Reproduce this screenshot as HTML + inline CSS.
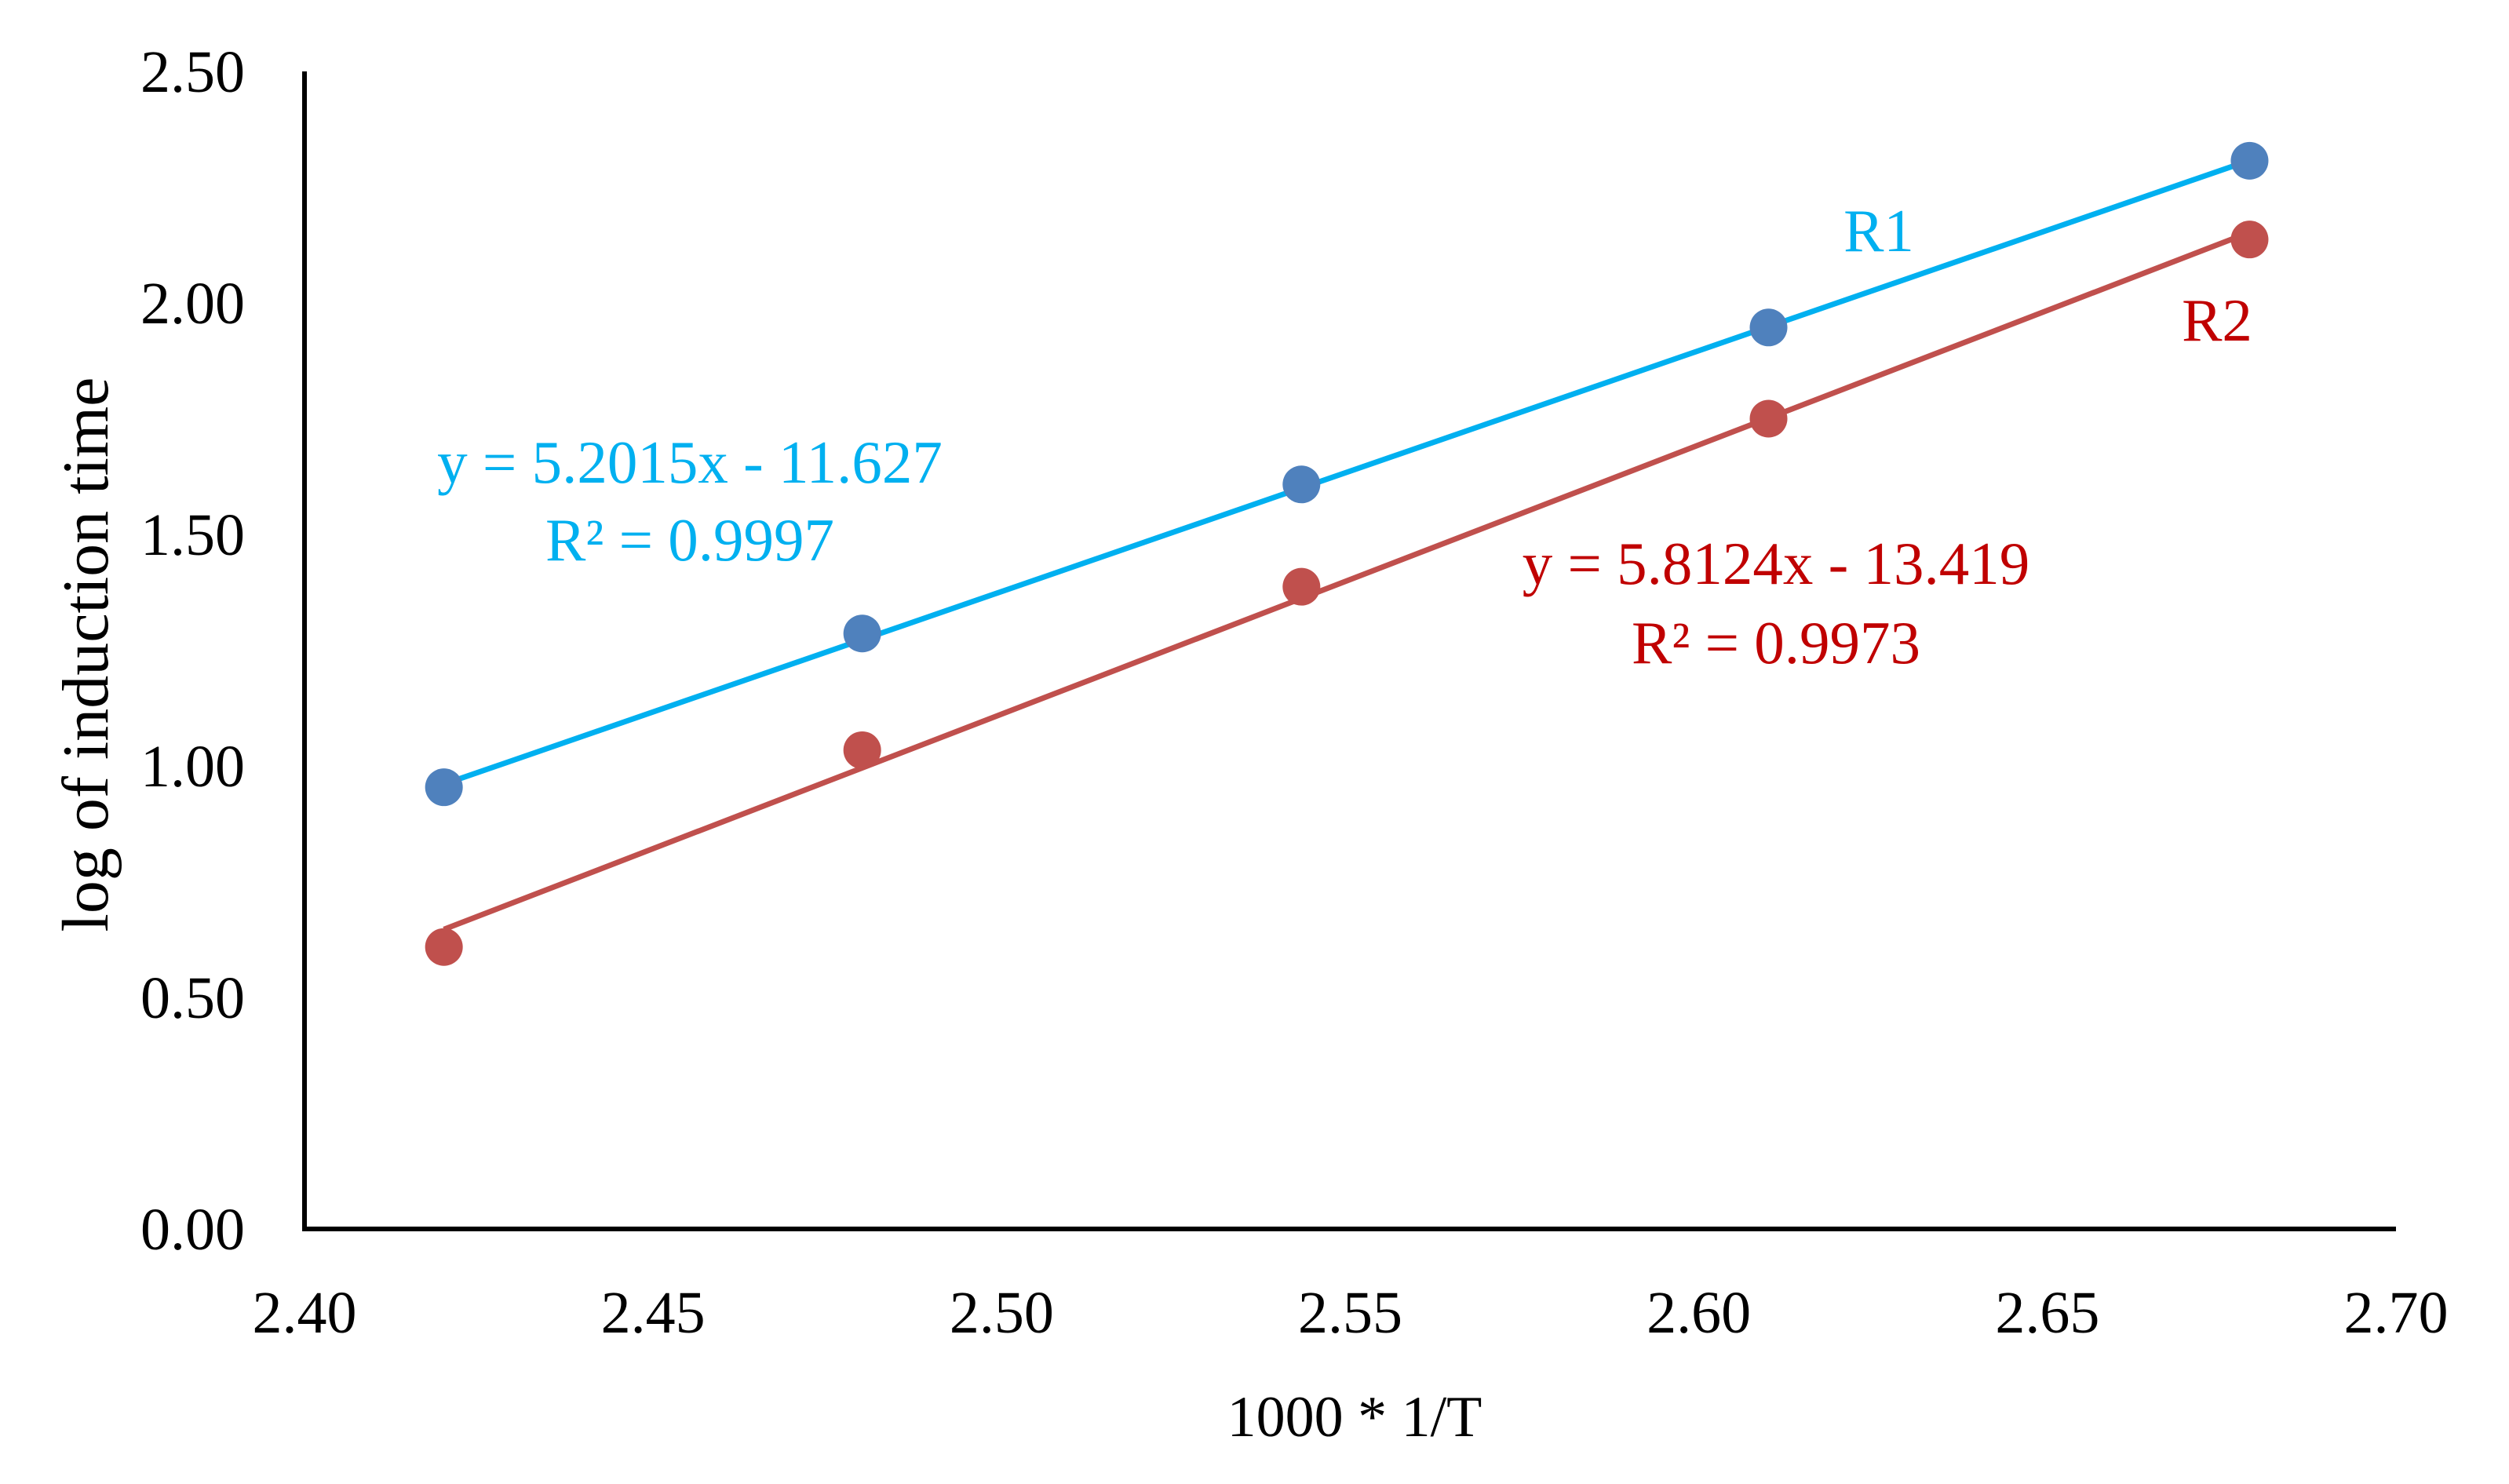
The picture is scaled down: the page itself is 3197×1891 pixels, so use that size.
<!DOCTYPE html>
<html><head><meta charset="utf-8"><style>
html,body{margin:0;padding:0;background:#fff;}
svg text{font-family:"Liberation Serif",serif;}
</style></head><body>
<svg id="chart" width="3197" height="1886" viewBox="0 0 3197 1886" xmlns="http://www.w3.org/2000/svg">
<g id="plot"></g>
</svg>
<script>
const xTicks = [2.40, 2.45, 2.50, 2.55, 2.60, 2.65, 2.70];
const yTicks = [0.00, 0.50, 1.00, 1.50, 2.00, 2.50];
const xValues = [2.420, 2.480, 2.543, 2.610, 2.679];
const r1Values = [0.954, 1.286, 1.608, 1.947, 2.307];
const r2Values = [0.609, 1.034, 1.387, 1.750, 2.137];
const r1Fit = [5.2015, -11.627];
const r2Fit = [5.8124, -13.419];

const X0 = 388, X1 = 3053, Y0 = 1566, Y1 = 91;
const xMin = 2.40, xMax = 2.70, yMin = 0, yMax = 2.5;
function sx(v){ return X0 + (v - xMin) / (xMax - xMin) * (X1 - X0); }
function sy(v){ return Y0 - (v - yMin) / (yMax - yMin) * (Y0 - Y1); }

const NS = "http://www.w3.org/2000/svg";
const g = document.getElementById('plot');
function mk(tag, attrs){ const e = document.createElementNS(NS, tag); for (const k in attrs) e.setAttribute(k, attrs[k]); g.appendChild(e); return e; }

let ax = mk('line', {x1:X0, y1:Y1, x2:X0, y2:Y0+3, stroke:'#000', 'stroke-width':6});


ax = mk('line', {x1:X0-3, y1:Y0, x2:X1, y2:Y0, stroke:'#000', 'stroke-width':6});



xTicks.forEach(v => {
  const t = mk('text', {x:sx(v), y:1698, 'font-size':76, 'text-anchor':'middle', fill:'#000'});
  t.textContent = v.toFixed(2);
  
  
});
yTicks.forEach(v => {
  const t = mk('text', {x:312, y:sy(v)+26, 'font-size':76, 'text-anchor':'end', fill:'#000'});
  t.textContent = v.toFixed(2);
  
  
});

function series(vals, fit, lineColor, dotColor, name){
  const xa = xValues[0], xb = xValues[xValues.length-1];
  const l = mk('line', {x1:sx(xa), y1:sy(fit[0]*xa+fit[1]), x2:sx(xb), y2:sy(fit[0]*xb+fit[1]), stroke:lineColor, 'stroke-width':7});
  
  
  vals.forEach((v, i) => {
    const c = mk('circle', {cx:sx(xValues[i]), cy:sy(v), r:24, fill:dotColor});
    
    
  });
}
series(r2Values, r2Fit, '#c0504d', '#c0504d', 'r2');
series(r1Values, r1Fit, '#00b0f0', '#4f81bd', 'r1');

function label(txt, x, y, color, name, size){
  const t = mk('text', {x:x, y:y, 'font-size':size || 77, 'text-anchor':'middle', fill:color});
  t.textContent = txt;
  
  
}
label('R1', 2394, 320, '#00b0f0', 'r1-label');
label('R2', 2825, 434, '#c00000', 'r2-label');
label('y = 5.2015x - 11.627', 879, 615, '#00b0f0', 'r1-equation');
label('R² = 0.9997', 879, 714, '#00b0f0', 'r1-r-squared');
label('y = 5.8124x - 13.419', 2263, 744, '#c00000', 'r2-equation');
label('R² = 0.9973', 2263, 845, '#c00000', 'r2-r-squared');
label('1000 * 1/T', 1726, 1830, '#000', 'x-axis-title', 74);
const yt = mk('text', {x:0, y:0, 'font-size':84, 'text-anchor':'middle', fill:'#000', transform:'translate(137,834) rotate(-90)'});
yt.textContent = 'log of induction time';


</script>
</body></html>
